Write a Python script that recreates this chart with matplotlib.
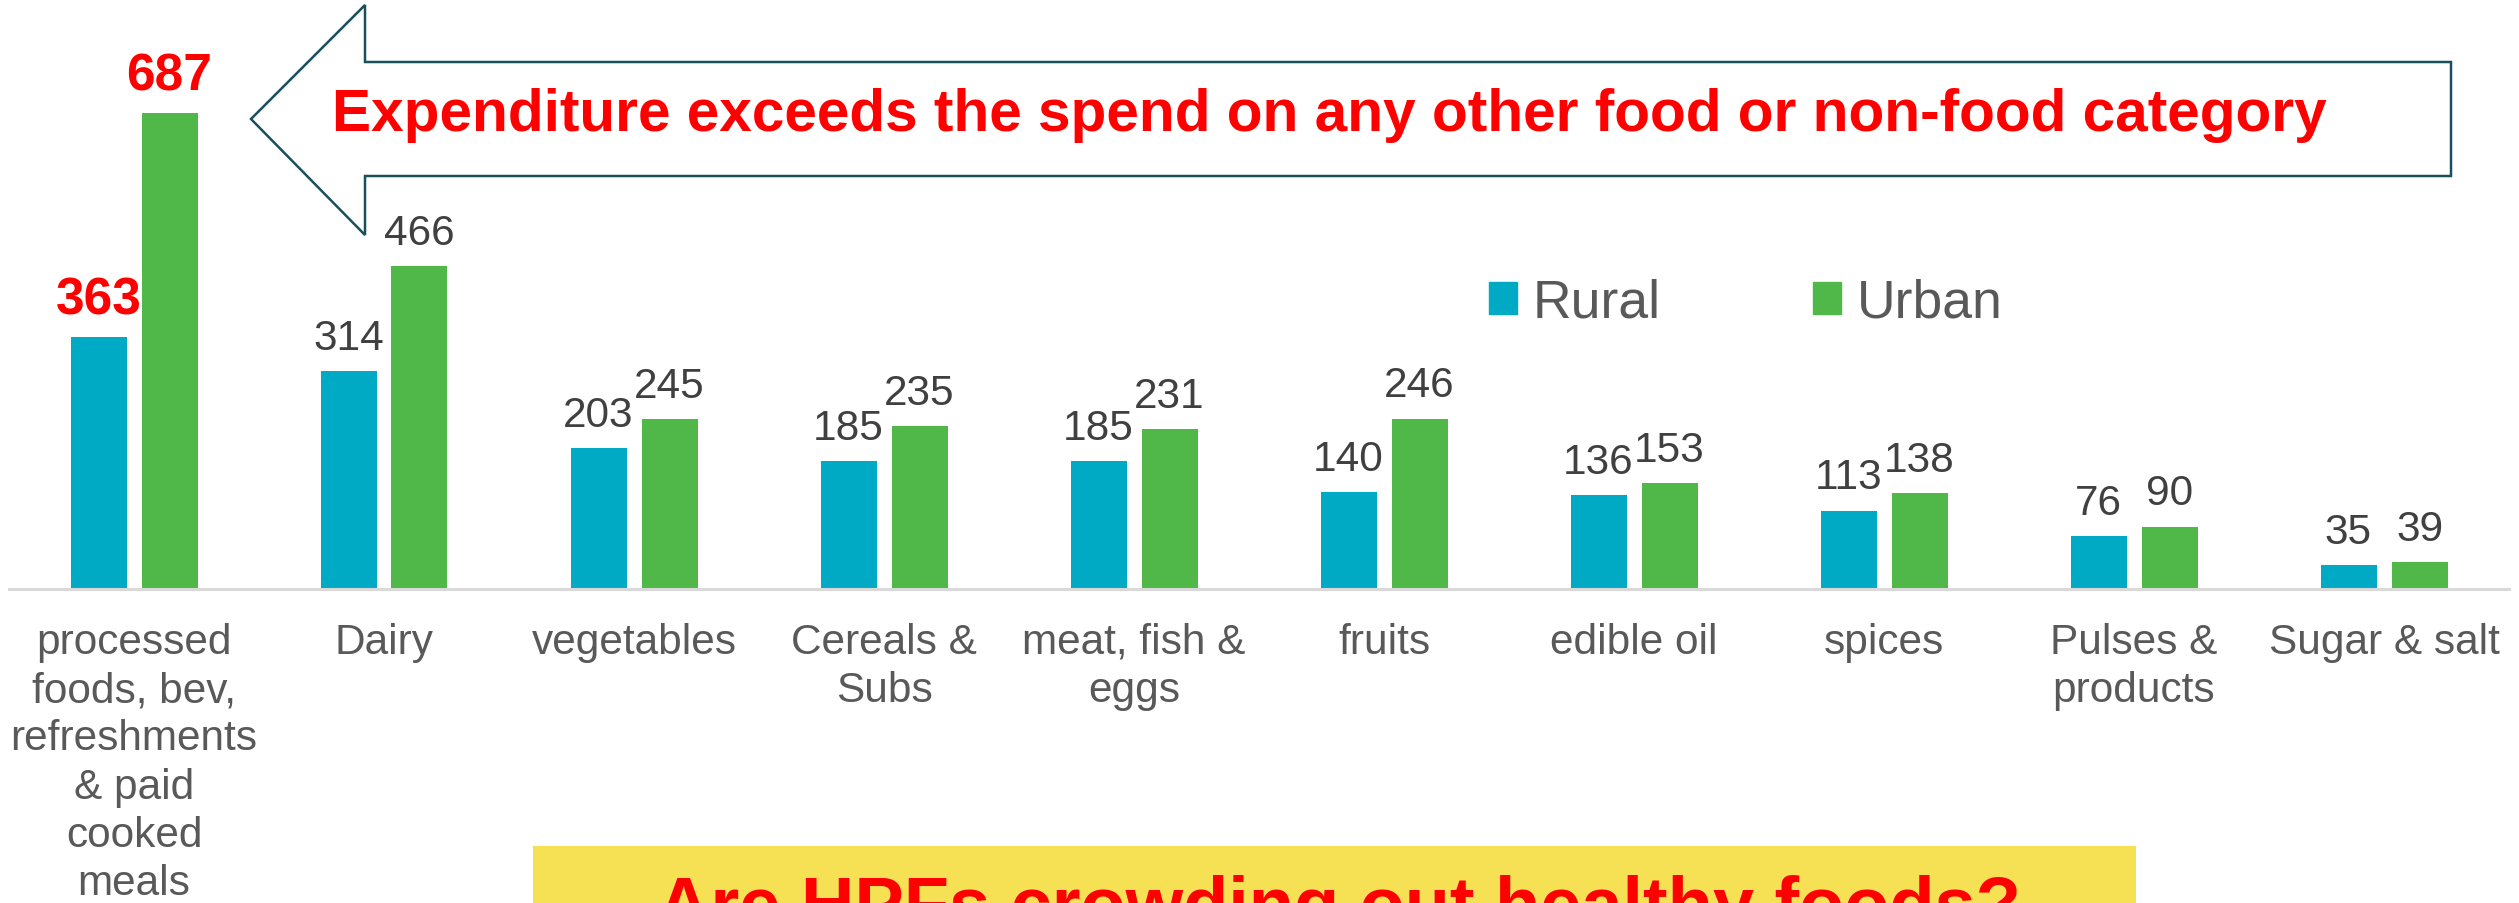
import matplotlib
matplotlib.use("Agg")
import matplotlib.pyplot as plt
import numpy as np
from matplotlib.patches import Polygon, Rectangle, Patch

plt.rcParams['font.family'] = ['Liberation Sans', 'DejaVu Sans']

# monthly per-capita spend by food group
categories = ["processed\nfoods, bev,\nrefreshments\n& paid\ncooked\nmeals",
              "Dairy", "vegetables", "Cereals &\nSubs", "meat, fish &\neggs",
              "fruits", "edible oil", "spices", "Pulses &\nproducts", "Sugar & salt"]
rural = [363, 314, 203, 185, 185, 140, 136, 113, 76, 35]
urban = [687, 466, 245, 235, 231, 246, 153, 138, 90, 39]
series_names = ["Rural", "Urban"]

RURAL_C = "#00AAC4"
URBAN_C = "#50B848"
LABEL_C = "#404040"
TICK_C = "#595959"

W, H = 2519, 904
fig = plt.figure(figsize=(W / 100, H / 100), dpi=100)


def px(x, y):
    """pixel (from top-left) -> figure fraction"""
    return x / W, 1 - y / H


ax = fig.add_axes([9 / W, 1 - 590 / H, 2500 / W, 590 / H])
x = np.arange(len(categories))
bw = 0.224
off = 0.142
b1 = ax.bar(x - off, rural, bw, color=RURAL_C, label=series_names[0])
b2 = ax.bar(x + off, urban, bw, color=URBAN_C, label=series_names[1])

ax.set_xlim(-0.5, len(categories) - 0.5)
ax.set_ylim(0, 851.5)
ax.set_yticks([])
ax.set_xticks(x)
ax.set_xticklabels(categories, fontsize=30.5, color=TICK_C, linespacing=1.27)
ax.tick_params(axis='x', length=0, pad=23.5)
for s in ["top", "left", "right"]:
    ax.spines[s].set_visible(False)
ax.spines["bottom"].set_color("#D9D9D9")
ax.spines["bottom"].set_linewidth(2.2)

# value labels; the first group is highlighted
for bars, vals in ((b1, rural), (b2, urban)):
    for i, (b, v) in enumerate(zip(bars, vals)):
        cx = b.get_x() + b.get_width() / 2
        if i == 0:
            ax.annotate(str(v), (cx, v), xytext=(0, 17), textcoords="offset points",
                        ha="center", va="baseline", fontsize=37, fontweight="bold", color="#FF0000")
        else:
            ax.annotate(str(v), (cx, v), xytext=(0, 16), textcoords="offset points",
                        ha="center", va="baseline", fontsize=30.5, color=LABEL_C)

handles = [Patch(color=RURAL_C), Patch(color=URBAN_C)]
fig.legend(handles, series_names, loc="center left", bbox_to_anchor=px(1462, 304),
           ncol=2, frameon=False, fontsize=38.5, handlelength=0.52, handleheight=0.52,
           handletextpad=0.3, columnspacing=2.85, borderpad=0, labelcolor=TICK_C)

# callout arrow pointing at the first group
arrow_pts = [px(251, 120), px(365, 6), px(365, 63), px(2451, 63),
             px(2451, 177), px(365, 177), px(365, 236)]
fig.patches.append(Polygon(arrow_pts, closed=True, transform=fig.transFigure,
                           facecolor="white", edgecolor="#1A4F5C", linewidth=1.8))
fig.text(*px(332, 131), "Expenditure exceeds the spend on any other food or non-food category",
         fontsize=42.2, fontweight="bold", color="#FF0000", ha="left", va="baseline")

# yellow banner at the bottom
bx0, by0 = px(533, 904)
bx1, by1 = px(2136, 847)
fig.patches.append(Rectangle((bx0, by0 - 0.05), bx1 - bx0, by1 - by0 + 0.05,
                             transform=fig.transFigure, facecolor="#F6E053", edgecolor="none"))
fig.text(*px(1339, 929), "Are HPFs crowding out healthy foods?",
         fontsize=53.3, fontweight="bold", color="#FF0000", ha="center", va="baseline")

fig.savefig("out.png", dpi=100)
